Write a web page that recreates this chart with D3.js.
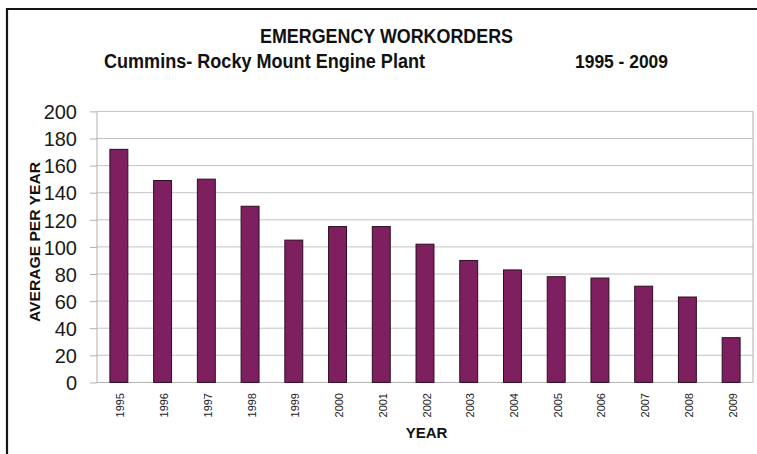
<!DOCTYPE html>
<html>
<head>
<meta charset="utf-8">
<script src="https://cdn.jsdelivr.net/npm/d3@7"></script>
<style>
  body { margin: 0; background: #fff; }
  svg { display: block; font-family: "Liberation Sans", Arial, sans-serif; }
</style>
</head>
<body>
<script>
const years = ['1995', '1996', '1997', '1998', '1999', '2000', '2001', '2002',
  '2003', '2004', '2005', '2006', '2007', '2008', '2009'];
const workorders = [172, 149, 150, 130, 105, 115, 115, 102, 90, 83, 78, 77, 71, 63, 33];
const yTicks = [0, 20, 40, 60, 80, 100, 120, 140, 160, 180, 200];

const width = 757;
const height = 454;

const svg = d3.select(document.body)
  .append('svg')
  .attr('width', width)
  .attr('height', height);

// frame (only top and left edges show in the crop)
svg.append('path')
  .attr('d', 'M7,454 V9 H757')
  .style('fill', 'none')
  .style('stroke', '#151515')
  .style('stroke-width', 2.2);

const x = d3.scaleBand()
  .domain(years)
  .range([97, 753])
  .paddingInner(0.59)
  .paddingOuter(0.295);

const y = d3.scaleLinear()
  .domain([0, 200])
  .range([382.4, 111.4]);

// gridlines
svg.selectAll('line.grid')
  .data(yTicks.slice(1))
  .enter()
  .append('line')
  .attr('class', 'grid')
  .attr('x1', 97)
  .attr('x2', 753)
  .attr('y1', d => y(d))
  .attr('y2', d => y(d))
  .style('stroke', '#c4c4c4')
  .style('stroke-width', 1);

// plot frame
svg.append('path')
  .attr('d', `M97,${y(200)} V${y(0)} H753 V${y(200)}`)
  .style('fill', 'none')
  .style('stroke', '#b0b0b0')
  .style('stroke-width', 1);

// y axis
const yAxis = svg.append('g')
  .attr('transform', 'translate(97,0)')
  .call(d3.axisLeft(y).tickValues(yTicks).tickSize(7).tickPadding(13));
yAxis.select('.domain').remove();
yAxis.selectAll('line').style('stroke', '#b0b0b0');
yAxis.selectAll('text')
  .style('font-size', '20px')
  .style('fill', '#1a1a1a')
  .attr('dy', '0.36em');

// bars
svg.selectAll('rect.bar')
  .data(workorders)
  .enter()
  .append('rect')
  .attr('class', 'bar')
  .attr('x', (d, i) => x(years[i]))
  .attr('y', d => y(d))
  .attr('width', x.bandwidth())
  .attr('height', d => y(0) - y(d))
  .style('fill', '#7e1f5f')
  .style('stroke', '#2e0c22')
  .style('stroke-width', 1);

// x tick labels, rotated
svg.selectAll('text.xlab')
  .data(years)
  .enter()
  .append('text')
  .attr('class', 'xlab')
  .attr('transform', d => `translate(${x(d) + x.bandwidth() / 2 + 5.5},393) rotate(-90)`)
  .attr('text-anchor', 'end')
  .style('font-size', '11px')
  .style('fill', '#1a1a1a')
  .text(d => d);

// titles
svg.append('text')
  .attr('x', 260)
  .attr('y', 43)
  .attr('textLength', 253)
  .attr('lengthAdjust', 'spacingAndGlyphs')
  .style('font-size', '20px')
  .style('font-weight', 'bold')
  .style('fill', '#111')
  .text('EMERGENCY WORKORDERS');

svg.append('text')
  .attr('x', 104)
  .attr('y', 67.5)
  .attr('textLength', 321)
  .attr('lengthAdjust', 'spacingAndGlyphs')
  .style('font-size', '20px')
  .style('font-weight', 'bold')
  .style('fill', '#111')
  .text('Cummins- Rocky Mount Engine Plant');

svg.append('text')
  .attr('x', 575)
  .attr('y', 67.5)
  .attr('textLength', 93)
  .attr('lengthAdjust', 'spacingAndGlyphs')
  .style('font-size', '18px')
  .style('font-weight', 'bold')
  .style('fill', '#111')
  .text('1995 - 2009');

// axis titles
svg.append('text')
  .attr('transform', 'translate(40,242) rotate(-90)')
  .attr('text-anchor', 'middle')
  .attr('textLength', 160)
  .attr('lengthAdjust', 'spacingAndGlyphs')
  .style('font-size', '15.5px')
  .style('font-weight', 'bold')
  .style('fill', '#111')
  .text('AVERAGE PER YEAR');

svg.append('text')
  .attr('x', 426.5)
  .attr('y', 438)
  .attr('text-anchor', 'middle')
  .style('font-size', '15px')
  .style('font-weight', 'bold')
  .style('fill', '#111')
  .text('YEAR');
</script>
</body>
</html>
